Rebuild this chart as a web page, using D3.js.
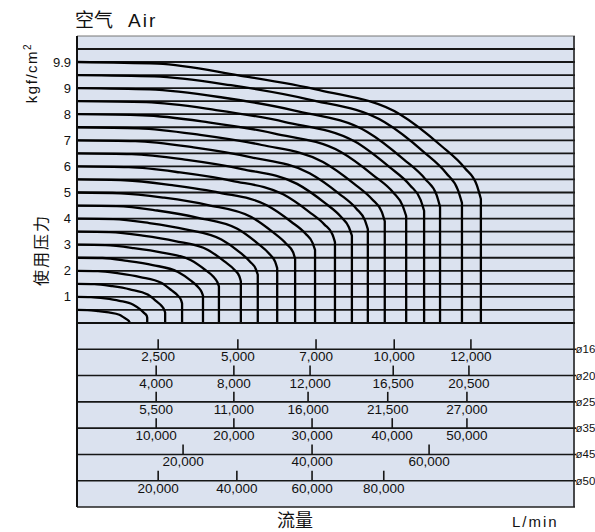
<!DOCTYPE html>
<html>
<head>
<meta charset="utf-8">
<script src="https://cdn.jsdelivr.net/npm/d3@7"></script>
<style>
  body { margin: 0; background: #fff; }
  text { font-family: "Liberation Sans", Arial, "Noto Sans CJK SC", sans-serif; fill: #111; }
</style>
</head>
<body>
<div id="chart"></div>
<script>
// pressure ticks on the left (kgf/cm2); the top one is printed as 9.9
const yTicks = [1, 2, 3, 4, 5, 6, 7, 8, 9, 9.9];
// horizontal rule lines of the upper chart
const gridLevels = [0.5, 1, 1.5, 2, 2.5, 3, 3.5, 4, 4.5, 5, 5.5, 6, 6.5, 7, 7.5, 8, 8.5, 9, 9.5, 9.9, 10.4];

// flow curves: [relative flow (0-100 of chart width), pressure]; each drops vertically to 0 at its end
const curves = [
  [[0,0.5],[2.1,0.495],[4.2,0.46],[6.4,0.405],[8.5,0.315],[9.5,0.2],[10.2,0.115],[10.5,0.05],[10.6,0]],
  [[0,1],[2.8,0.99],[5.6,0.94],[8.5,0.85],[11.3,0.70],[12.7,0.52],[13.5,0.38],[14.0,0.28],[14.1,0.2]],
  [[0,1.5],[3.5,1.49],[7.1,1.41],[10.6,1.29],[14.2,1.09],[15.9,0.84],[17.0,0.65],[17.5,0.51],[17.7,0.4]],
  [[0,2],[4.2,1.99],[8.4,1.9],[12.7,1.76],[16.9,1.54],[19.0,1.25],[20.3,1.04],[20.9,0.88],[21.1,0.75]],
  [[0,2.5],[5.1,2.49],[10.1,2.38],[15.2,2.22],[20.2,1.96],[22.8,1.63],[24.3,1.38],[25.0,1.20],[25.3,1.05]],
  [[0,3],[5.7,2.98],[11.4,2.87],[17.1,2.70],[22.8,2.41],[25.7,2.04],[27.4,1.77],[28.2,1.56],[28.5,1.4]],
  [[0,3.5],[6.6,3.48],[13.2,3.35],[19.7,3.14],[26.3,2.80],[29.6,2.36],[31.6,2.04],[32.6,1.79],[32.9,1.6]],
  [[0,4],[7.3,3.98],[14.5,3.83],[21.8,3.59],[29.0,3.20],[32.7,2.71],[34.8,2.34],[35.9,2.07],[36.3,1.85]],
  [[0,4.5],[8.0,4.48],[16.1,4.31],[24.1,4.04],[32.2,3.61],[36.2,3.06],[38.6,2.65],[39.8,2.34],[40.2,2.1]],
  [[0,5],[8.8,4.97],[17.5,4.80],[26.3,4.52],[35.0,4.06],[39.4,3.47],[42.0,3.04],[43.4,2.71],[43.8,2.45]],
  [[0,5.5],[9.6,5.47],[19.1,5.28],[28.7,4.99],[38.2,4.50],[43.0,3.88],[45.9,3.42],[47.3,3.07],[47.8,2.8]],
  [[0,6],[10.4,5.97],[20.7,5.77],[31.1,5.45],[41.4,4.93],[46.6,4.26],[49.7,3.77],[51.3,3.39],[51.8,3.1]],
  [[0,6.5],[11.0,6.47],[22.1,6.25],[33.1,5.90],[44.2,5.33],[49.7,4.61],[53.0,4.07],[54.6,3.67],[55.2,3.35]],
  [[0,7],[11.7,6.97],[23.4,6.73],[35.0,6.35],[46.7,5.74],[52.6,4.96],[56.1,4.38],[57.8,3.94],[58.4,3.6]],
  [[0,7.5],[12.4,7.46],[24.7,7.21],[37.1,6.82],[49.4,6.17],[55.6,5.34],[59.3,4.73],[61.2,4.26],[61.8,3.9]],
  [[0,8],[13.2,7.96],[26.4,7.69],[39.7,7.26],[52.9,6.56],[59.5,5.66],[63.5,5.00],[65.4,4.49],[66.1,4.1]],
  [[0,8.5],[13.9,8.46],[27.9,8.16],[41.8,7.70],[55.8,6.95],[62.7,5.98],[66.9,5.27],[69.0,4.72],[69.7,4.3]],
  [[0,9],[14.6,8.95],[29.2,8.64],[43.7,8.14],[58.3,7.32],[65.6,6.27],[70.0,5.50],[72.2,4.91],[72.9,4.45]],
  [[0,9.5],[15.5,9.45],[30.9,9.11],[46.4,8.57],[61.8,7.69],[69.6,6.56],[74.2,5.73],[76.5,5.09],[77.3,4.6]],
  [[0,9.9],[16.2,9.85],[32.4,9.49],[48.7,8.92],[64.9,7.99],[73.0,6.81],[77.9,5.93],[80.3,5.27],[81.1,4.75]]
];

// flow scale table under the chart, one row per pipe size
const pipeSizes = ["ø16", "ø20", "ø25", "ø35", "ø45", "ø50"];
const tickPos = [
  [16.3, 32.3, 48.0, 63.7, 79.1],
  [15.9, 31.5, 46.8, 63.5, 78.7],
  [15.9, 31.5, 46.4, 62.4, 78.3],
  [15.9, 31.5, 47.2, 63.3, 78.3],
  [21.3, 47.2, 70.7],
  [16.3, 32.1, 47.2, 61.6]
];
const tickFlows = [
  [2500, 5000, 7000, 10000, 12000],
  [4000, 8000, 12000, 16500, 20500],
  [5500, 11000, 16000, 21500, 27000],
  [10000, 20000, 30000, 40000, 50000],
  [20000, 40000, 60000],
  [20000, 40000, 60000, 80000]
];

function init() {
    const width = 595, height = 532;
    const left = 77, right = 575, top = 36, zeroY = 323, bottom = 507;
    const unit = 26.1;

    const svg = d3.select("#chart").append("svg")
        .attr("width", width)
        .attr("height", height);

    const x = d3.scaleLinear().domain([0, 100]).range([left, right]);
    // 9.9 is drawn on the "10" rule, so the top of the scale is piecewise
    const y = d3.scaleLinear()
        .domain([0, 9.5, 9.9, 10.9])
        .range([zeroY, zeroY - 9.5 * unit, zeroY - 10 * unit, top]);
    const row = d3.scaleLinear().domain([0, 7]).range([zeroY, bottom]);

    // background panel
    svg.append("rect")
        .attr("x", left).attr("y", top)
        .attr("width", right - left).attr("height", bottom - top)
        .attr("fill", "#dbe2ef");

    // rules of the upper chart
    svg.append("g").selectAll("line")
        .data(gridLevels)
        .join("line")
        .attr("x1", left).attr("x2", right)
        .attr("y1", d => y(d)).attr("y2", d => y(d))
        .attr("stroke", "#161616").attr("stroke-width", 1.8);

    // curves
    const line = d3.line()
        .x(d => x(d[0]))
        .y(d => y(d[1]))
        .curve(d3.curveMonotoneX);

    svg.append("g").selectAll("path")
        .data(curves)
        .join("path")
        .attr("d", d => {
            const last = d[d.length - 1];
            return line(d) + "L" + x(last[0]) + "," + y(0);
        })
        .attr("fill", "none")
        .attr("stroke", "#000")
        .attr("stroke-width", 2.3)
        .attr("stroke-linejoin", "round");

    // pressure tick labels
    svg.append("g").selectAll("text")
        .data(yTicks)
        .join("text")
        .attr("x", 71)
        .attr("y", d => y(d))
        .attr("dy", "0.35em")
        .attr("text-anchor", "end")
        .attr("font-size", 13)
        .text(d => d);

    // table rows
    const fmt = d3.format(",");
    pipeSizes.forEach((name, i) => {
        const ry = row(i + 1);
        svg.append("line")
            .attr("x1", left).attr("x2", right + 1)
            .attr("y1", ry).attr("y2", ry)
            .attr("stroke", "#161616").attr("stroke-width", 1.6);

        const g = svg.append("g");
        g.selectAll("line")
            .data(tickPos[i])
            .join("line")
            .attr("x1", d => x(d)).attr("x2", d => x(d))
            .attr("y1", ry - 10).attr("y2", ry)
            .attr("stroke", "#161616").attr("stroke-width", 1.6);
        g.selectAll("text")
            .data(tickFlows[i])
            .join("text")
            .attr("x", (d, j) => x(tickPos[i][j]))
            .attr("y", ry + 12)
            .attr("text-anchor", "middle")
            .attr("font-size", 13.5)
            .text(d => fmt(d));

        svg.append("text")
            .attr("x", right + 0.5)
            .attr("y", ry)
            .attr("dy", "0.35em")
            .attr("font-size", 11.5)
            .text(name);
    });

    // frame
    svg.append("line")
        .attr("x1", left).attr("x2", right).attr("y1", top).attr("y2", top)
        .attr("stroke", "#777").attr("stroke-width", 1);
    svg.append("line")
        .attr("x1", left).attr("x2", right).attr("y1", zeroY).attr("y2", zeroY)
        .attr("stroke", "#111").attr("stroke-width", 2.2);
    svg.append("line")
        .attr("x1", left).attr("x2", right).attr("y1", bottom).attr("y2", bottom)
        .attr("stroke", "#222").attr("stroke-width", 1.6);
    svg.append("line")
        .attr("x1", left).attr("x2", left).attr("y1", top).attr("y2", bottom)
        .attr("stroke", "#111").attr("stroke-width", 2);
    svg.append("line")
        .attr("x1", right - 1).attr("x2", right - 1).attr("y1", top).attr("y2", bottom)
        .attr("stroke", "#222").attr("stroke-width", 1.6);

    // titles
    svg.append("text").attr("x", 75).attr("y", 27).attr("font-size", 19).text("空气");
    svg.append("text").attr("x", 128).attr("y", 27).attr("font-size", 19)
        .attr("letter-spacing", 2).text("Air");

    const unitLabel = svg.append("text")
        .attr("transform", "translate(37,73) rotate(-90)")
        .attr("text-anchor", "middle")
        .attr("font-size", 15)
        .attr("letter-spacing", 1.5);
    unitLabel.append("tspan").text("kgf/cm");
    unitLabel.append("tspan").attr("dy", -6).attr("font-size", 10).text("2");

    svg.append("text")
        .attr("transform", "translate(47,250) rotate(-90)")
        .attr("text-anchor", "middle")
        .attr("font-size", 16)
        .attr("letter-spacing", 2)
        .text("使用压力");

    svg.append("text")
        .attr("x", 295).attr("y", 527)
        .attr("text-anchor", "middle")
        .attr("font-size", 18)
        .text("流量");

    svg.append("text")
        .attr("x", 512).attr("y", 527)
        .attr("font-size", 15)
        .attr("letter-spacing", 2)
        .text("L/min");
}
window.onload = init;
</script>
</body>
</html>
